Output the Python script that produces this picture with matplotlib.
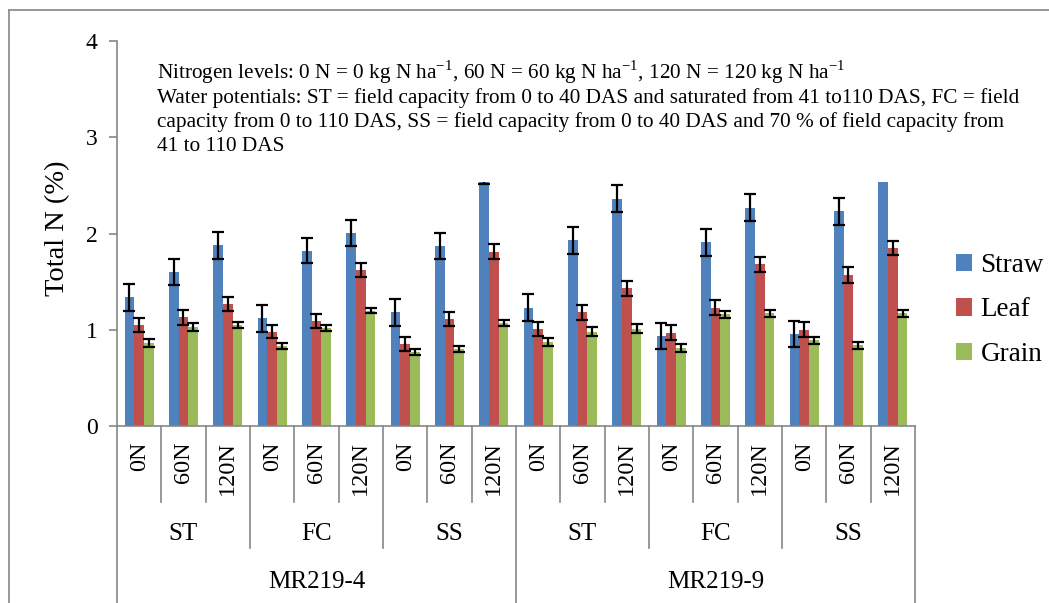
import numpy as np
import matplotlib
matplotlib.use('Agg')
import matplotlib.pyplot as plt
from matplotlib.patches import Rectangle
from matplotlib.lines import Line2D

plt.rcParams['font.family'] = ['Liberation Serif', 'DejaVu Serif']
plt.rcParams['mathtext.fontset'] = 'custom'
plt.rcParams['mathtext.rm'] = 'Liberation Serif'

# data
cultivars = ['MR219-4', 'MR219-9']
water = ['ST', 'FC', 'SS']
nitrogen = ['0N', '60N', '120N']

straw = [1.34, 1.60, 1.88, 1.12, 1.82, 2.01, 1.18, 1.87, 2.65,
         1.23, 1.93, 2.36, 0.94, 1.91, 2.27, 0.96, 2.23, 2.70]
straw_err = [0.14, 0.135, 0.14, 0.14, 0.13, 0.135, 0.14, 0.14, 0.14,
             0.14, 0.14, 0.14, 0.135, 0.14, 0.14, 0.135, 0.14, 0.14]
leaf = [1.05, 1.13, 1.27, 0.98, 1.09, 1.62, 0.85, 1.11, 1.81,
        1.01, 1.18, 1.43, 0.97, 1.23, 1.68, 1.00, 1.57, 1.85]
leaf_err = [0.076, 0.08, 0.07, 0.07, 0.07, 0.075, 0.075, 0.073, 0.077,
            0.075, 0.076, 0.076, 0.076, 0.076, 0.076, 0.076, 0.08, 0.076]
grain = [0.86, 1.03, 1.05, 0.83, 1.02, 1.20, 0.77, 0.80, 1.07,
         0.87, 0.98, 1.01, 0.81, 1.16, 1.17, 0.89, 0.84, 1.17]
grain_err = [0.04, 0.045, 0.035, 0.035, 0.03, 0.03, 0.035, 0.035, 0.035,
             0.04, 0.045, 0.045, 0.038, 0.038, 0.038, 0.038, 0.035, 0.038]

series = ['Straw', 'Leaf', 'Grain']
colors = ['#4F81BD', '#C0504D', '#9BBB59']

W, H = 1049, 603
fig = plt.figure(figsize=(W / 100, H / 100), dpi=100)
ax = fig.add_axes([117 / W, 1 - 426 / H, (915 - 117) / W, (426 - 41) / H])

n = len(straw)
x = np.arange(n)
bw = 0.22
for i, (vals, errs) in enumerate([(straw, straw_err), (leaf, leaf_err), (grain, grain_err)]):
    ax.bar(x + (i - 1) * bw, vals, bw, color=colors[i], label=series[i], zorder=2)
    ax.errorbar(x + (i - 1) * bw, vals, yerr=errs, fmt='none', ecolor='black',
                elinewidth=1.6, capsize=4.5, capthick=1.6, zorder=3)

gray = '#868686'
ax.set_xlim(-0.5, n - 0.5)
ax.set_ylim(0, 4)
ax.set_yticks([0, 1, 2, 3, 4])
ax.tick_params(axis='y', labelsize=17, length=6, width=1.2, color=gray, pad=8)
ax.set_xticks([])
for s in ['top', 'right']:
    ax.spines[s].set_visible(False)
ax.spines['left'].set_color(gray)
ax.spines['bottom'].set_color(gray)
ax.spines['left'].set_linewidth(1.2)
ax.spines['bottom'].set_linewidth(1.2)
ax.set_ylabel('Total N (%)', fontsize=20.5)
ax.yaxis.set_label_coords(-0.059, 0.514)

# hierarchical category axis
trans = ax.get_xaxis_transform()
y_n, y_w, y_c = -0.197, -0.317, -0.47
for b in range(n + 1):
    xb = b - 0.5
    if b % 9 == 0:
        yb = y_c
    elif b % 3 == 0:
        yb = y_w
    else:
        yb = y_n
    ax.add_line(Line2D([xb, xb], [0, yb], transform=trans, color=gray,
                       lw=1.2, clip_on=False))

for k in range(n):
    ax.text(k, -0.04, nitrogen[k % 3], transform=trans, rotation=90,
            ha='center', va='top', fontsize=17.5)
for g in range(n // 3):
    ax.text(g * 3 + 1, -0.28, water[g % 3], transform=trans,
            ha='center', va='center', fontsize=18)
for c in range(len(cultivars)):
    ax.text(c * 9 + 4, -0.405, cultivars[c], transform=trans,
            ha='center', va='center', fontsize=18)

ax.legend(loc='center left', bbox_to_anchor=(956 / W, 1 - 310 / H),
          bbox_transform=fig.transFigure, frameon=False, fontsize=19.5,
          handlelength=0.6, handleheight=0.6, handletextpad=0.3,
          labelspacing=0.72, borderpad=0, borderaxespad=0)

# note box (white fill hides tops of the tallest bars)
fig.add_artist(Rectangle((140 / W, 1 - 182 / H), (1040 - 140) / W, (182 - 48) / H,
                         transform=fig.transFigure, facecolor='white',
                         edgecolor='none', zorder=1))
sup = r'$^{\mathregular{-1}}$'
notes = ['Nitrogen levels: 0 N = 0 kg N ha' + sup + ', 60 N = 60 kg N ha' + sup +
         ', 120 N = 120 kg N ha' + sup,
         'Water potentials: ST = field capacity from 0 to 40 DAS and saturated from 41 to110 DAS, FC = field',
         'capacity from 0 to 110 DAS, SS = field capacity from 0 to 40 DAS and 70 % of field capacity from',
         '41 to 110 DAS']
for j, line in enumerate(notes):
    fig.text(157 / W, 1 - (79 + 24 * j) / H, line, fontsize=15.3,
             ha='left', va='baseline', zorder=3)

# chart border
fig.add_artist(Line2D([9 / W, 9 / W], [0, 1 - 10 / H], transform=fig.transFigure,
                      color=gray, lw=1.2))
fig.add_artist(Line2D([9 / W, 1], [1 - 10 / H, 1 - 10 / H], transform=fig.transFigure,
                      color=gray, lw=1.2))

fig.savefig('out.png', dpi=100)
